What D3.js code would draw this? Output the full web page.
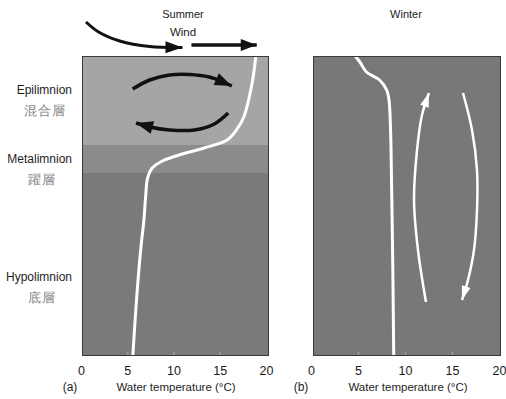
<!DOCTYPE html>
<html>
<head>
<meta charset="utf-8">
<script src="https://cdn.jsdelivr.net/npm/d3@7"></script>
<style>
  html, body { margin: 0; padding: 0; background: #fff; }
  svg { display: block; }
  text { font-family: "Liberation Sans", Arial, sans-serif; }
</style>
</head>
<body>
<svg id="chart" width="506" height="399"></svg>
<script>
// Temperature ticks shared by both panels
const tempTicks = [0, 5, 10, 15, 20];

// Lake layers (depth in metres, top/bottom of each band)
const layerNames = ["Epilimnion", "Metalimnion", "Hypolimnion"];
const layerNamesZh = ["混合層", "躍層", "底層"];
const layerTop = [0, 8.9, 11.7];
const layerBottom = [8.9, 11.7, 30];
const layerLabelDepth = [3.4, 10.3, 22.1];

// Summer temperature profile (°C at depth m)
const summerDepth = [0, 2.7, 6.1, 7.4, 8.4, 9.2, 9.9, 10.5, 11.2, 12.2, 13.9, 16.4, 19.4, 24.4, 30];
const summerTemp  = [18.9, 18.5, 17.6, 16.8, 15.8, 13.3, 10.6, 8.8, 7.7, 7.2, 7.0, 6.8, 6.45, 6.0, 5.6];

// Winter temperature profile
const winterDepth = [0, 0.6, 1.6, 2.4, 3.4, 4.4, 14.4, 30];
const winterTemp  = [4.7, 5.2, 5.9, 7.3, 8.05, 8.3, 8.6, 8.8];

// Circulation arrows, as [temperature, depth] paths
const windCurve   = [[0.54, -3.4], [1.9, -2.4], [4.19, -1.5], [7.42, -0.95], [10.97, -0.85]];
const windStraight = [[11.94, -1.1], [19.0, -1.1]];
const summerUpper = [[5.59, 3.3], [7.42, 2.4], [9.57, 1.9], [11.72, 1.85], [13.87, 2.1], [15.38, 2.6], [16.3, 3.0]];
const summerLower = [[15.91, 5.7], [14.41, 6.8], [12.26, 7.4], [9.57, 7.4], [7.42, 7.1], [5.95, 6.7]];
const winterUp    = [[12.23, 24.6], [11.38, 19.4], [10.96, 14.4], [11.28, 9.4], [11.81, 5.9], [12.55, 3.7]];
const winterDown  = [[16.17, 3.7], [17.13, 7.4], [17.66, 11.4], [17.66, 15.4], [17.34, 19.4], [16.70, 22.4], [16.06, 24.4]];

const svg = d3.select("#chart");

const y = d3.scaleLinear().domain([0, 30]).range([56, 356]);
const xS = d3.scaleLinear().domain([0, 20]).range([81, 266]);
const xW = d3.scaleLinear().domain([0, 20]).range([311, 499]);

const panelS = { x0: 82, x1: 269 };
const panelW = { x0: 313, x1: 501 };

const layerColors = ["#a5a5a5", "#8b8b8b", "#7a7a7a"];
const winterColor = "#787878";

// Draws a curved arrow with a filled triangular head at its end
function arrow(g, pts, xs, color, width, headLen, headW) {
  const line = d3.line().x(d => xs(d[0])).y(d => y(d[1])).curve(d3.curveCatmullRom.alpha(0.5));
  const p = g.append("path").attr("d", line(pts))
    .attr("fill", "none").attr("stroke", color).attr("stroke-width", width)
    .attr("stroke-linecap", "butt");
  const node = p.node();
  const L = node.getTotalLength();
  const tip = node.getPointAtLength(L);
  const base = node.getPointAtLength(Math.max(0, L - headLen));
  const dx = tip.x - base.x, dy = tip.y - base.y;
  const len = Math.hypot(dx, dy) || 1;
  const nx = -dy / len, ny = dx / len;
  g.append("path")
    .attr("d", `M${tip.x},${tip.y} L${base.x + nx * headW / 2},${base.y + ny * headW / 2} L${base.x - nx * headW / 2},${base.y - ny * headW / 2} Z`)
    .attr("fill", color);
}

// ---- Summer panel ----
const gS = svg.append("g");
gS.selectAll("rect.layer").data(layerTop).join("rect")
  .attr("class", "layer")
  .attr("x", panelS.x0).attr("width", panelS.x1 - panelS.x0)
  .attr("y", (d) => y(d))
  .attr("height", (d, i) => y(layerBottom[i]) - y(d))
  .attr("fill", (d, i) => layerColors[i]);

// ---- Winter panel ----
const gW = svg.append("g");
gW.append("rect")
  .attr("x", panelW.x0).attr("width", panelW.x1 - panelW.x0)
  .attr("y", y(0)).attr("height", y(30) - y(0))
  .attr("fill", winterColor);

// Axes: faint inner ticks, labels below
function axis(g, xs) {
  const a = g.append("g").attr("transform", `translate(0,${y(30)})`)
    .call(d3.axisBottom(xs).tickValues(tempTicks).tickSizeInner(-4).tickSizeOuter(0).tickPadding(10).tickFormat(d3.format("d")));
  a.select(".domain").remove();
  a.selectAll(".tick line").attr("stroke", "#9a9a9a").attr("stroke-width", 1.5)
    .attr("opacity", (d) => (d === 0 || d === 20) ? 0 : 1);
  a.selectAll(".tick text").attr("font-size", 12.5).attr("fill", "#1a1a1a")
    .attr("font-family", "'Liberation Sans', Arial, sans-serif");
}
axis(gS, xS);
axis(gW, xW);

// Temperature profiles
const profile = (xs) => d3.line().x(d => xs(d[0])).y(d => y(d[1])).curve(d3.curveCatmullRom.alpha(0.5));
gS.append("path")
  .attr("d", profile(xS)(summerTemp.map((t, i) => [t, summerDepth[i]])))
  .attr("fill", "none").attr("stroke", "#fff").attr("stroke-width", 3);
gW.append("path")
  .attr("d", profile(xW)(winterTemp.map((t, i) => [t, winterDepth[i]])))
  .attr("fill", "none").attr("stroke", "#fff").attr("stroke-width", 3);

// Circulation
arrow(gS, summerUpper, xS, "#111", 3.5, 17, 13);
arrow(gS, summerLower, xS, "#111", 3.5, 17, 13);
arrow(gW, winterUp, xW, "#fff", 2.5, 14, 9);
arrow(gW, winterDown, xW, "#fff", 2.5, 14, 9);

// Wind
arrow(svg, windCurve, xS, "#111", 3, 17, 12);
arrow(svg, windStraight, xS, "#111", 3.5, 16, 12);

// Panel frames
[panelS, panelW].forEach(p => {
  svg.append("rect").attr("x", p.x0 + 0.5).attr("y", y(0) + 0.5)
    .attr("width", p.x1 - p.x0 - 1).attr("height", y(30) - y(0) - 1)
    .attr("fill", "none").attr("stroke", "#3a3a3a").attr("stroke-width", 1);
});

// Titles
svg.append("text").attr("x", 183).attr("y", 18).attr("text-anchor", "middle")
  .attr("font-size", 11).attr("fill", "#222").text("Summer");
svg.append("text").attr("x", 183).attr("y", 36).attr("text-anchor", "middle")
  .attr("font-size", 11.5).attr("fill", "#222").text("Wind");
svg.append("text").attr("x", 406).attr("y", 18).attr("text-anchor", "middle")
  .attr("font-size", 11).attr("fill", "#222").text("Winter");

// Layer labels
const labels = svg.append("g");
labels.selectAll("text.en").data(layerNames).join("text")
  .attr("class", "en")
  .attr("x", 72).attr("y", (d, i) => y(layerLabelDepth[i]) + 4)
  .attr("text-anchor", "end").attr("font-size", 12).attr("fill", "#1e1e1e")
  .text(d => d);
labels.selectAll("text.zh").data(layerNamesZh).join("text")
  .attr("class", "zh")
  .attr("x", (d, i) => [45, 42, 42][i]).attr("y", (d, i) => y(layerLabelDepth[i]) + 25)
  .attr("text-anchor", "middle").attr("font-size", 13).attr("fill", "#858585")
  .attr("font-family", "'Noto Sans CJK TC', 'Noto Sans CJK SC', sans-serif")
  .attr("letter-spacing", 1)
  .text(d => d);

// Axis titles
svg.append("text").attr("x", 70).attr("y", 391).attr("text-anchor", "middle")
  .attr("font-size", 12).attr("fill", "#1e1e1e").text("(a)");
svg.append("text").attr("x", 176).attr("y", 391).attr("text-anchor", "middle")
  .attr("font-size", 11.5).attr("fill", "#1e1e1e").text("Water temperature (°C)");
svg.append("text").attr("x", 301).attr("y", 391).attr("text-anchor", "middle")
  .attr("font-size", 12).attr("fill", "#1e1e1e").text("(b)");
svg.append("text").attr("x", 408).attr("y", 391).attr("text-anchor", "middle")
  .attr("font-size", 11.5).attr("fill", "#1e1e1e").text("Water temperature (°C)");
</script>
</body>
</html>
